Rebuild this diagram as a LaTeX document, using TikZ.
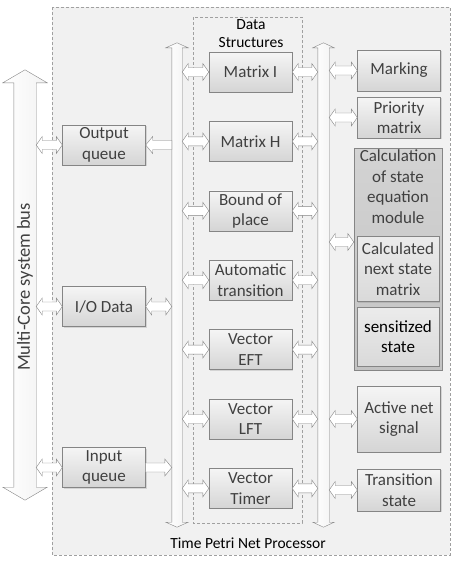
\documentclass[tikz,border=0pt]{standalone}
\usepackage{fontspec}
\setmainfont{Carlito}
\usepackage{tikz}
\usetikzlibrary{shapes, arrows.meta, calc, positioning, shadows}
\definecolor{boxline}{HTML}{858585}
\definecolor{boxtop}{HTML}{F5F5F5}
\definecolor{boxbot}{HTML}{D5D5D5}
\definecolor{txtgray}{HTML}{404040}
\definecolor{procfill}{HTML}{F1F1F1}
\definecolor{dashgray}{HTML}{A0A0A0}
\definecolor{calctop}{HTML}{D3D3D3}
\definecolor{calcbot}{HTML}{C3C3C3}
\tikzstyle{component} = [rectangle, draw=boxline, top color=boxtop, bottom color=boxbot,
    text=txtgray, align=center, minimum width=83pt, minimum height=40pt, inner sep=1pt,
    drop shadow={shadow xshift=1pt, shadow yshift=-1pt, opacity=.25, fill=gray}]
\tikzstyle{blockarrow} = [draw=boxline, fill=white, line join=miter]
\tikzstyle{busbar} = [draw=boxline, left color=white, right color=gray!10, line join=miter]

% double-headed block arrow, #1 left end, #2 right end
\newcommand{\biarrow}[2]{%
  \path[blockarrow] let \p1=#1, \p2=#2 in
    (\x1,\y1) -- ({\x1+6pt},{\y1+8.5pt}) -- ({\x1+6pt},{\y1+4.5pt}) --
    ({\x2-6pt},{\y1+4.5pt}) -- ({\x2-6pt},{\y1+8.5pt}) -- (\x2,\y1) --
    ({\x2-6pt},{\y1-8.5pt}) -- ({\x2-6pt},{\y1-4.5pt}) --
    ({\x1+6pt},{\y1-4.5pt}) -- ({\x1+6pt},{\y1-8.5pt}) -- cycle;}
% single block arrow from #1 to #2
\newcommand{\toarrow}[2]{%
  \path[blockarrow] let \p1=#1, \p2=#2, \n1={sign(\x2-\x1)} in
    (\x1,{\y1+4.5pt}) -- ({\x2-\n1*7pt},{\y1+4.5pt}) -- ({\x2-\n1*7pt},{\y1+8.5pt}) --
    (\x2,\y1) -- ({\x2-\n1*7pt},{\y1-8.5pt}) -- ({\x2-\n1*7pt},{\y1-4.5pt}) --
    (\x1,{\y1-4.5pt}) -- cycle;}
% vertical bus round node #1, head extend #2, head length #3
\newcommand{\busarrow}[3]{%
  \path[busbar] let \p1=(#1.south west), \p2=(#1.north east), \p3=(#1.center) in
    (\x1,{\y1+#3}) -- ({\x1-#2},{\y1+#3}) -- (\x3,\y1) -- ({\x2+#2},{\y1+#3}) --
    (\x2,{\y1+#3}) -- (\x2,{\y2-#3}) -- ({\x2+#2},{\y2-#3}) -- (\x3,\y2) --
    ({\x1-#2},{\y2-#3}) -- (\x1,{\y2-#3}) -- cycle;}

\begin{document}
\begin{tikzpicture}[x=1pt, y=-1pt, node distance=69.4pt,
    font=\fontsize{17}{20.5}\selectfont,
    busnode/.style={rectangle, inner sep=0pt, draw=none},
    procbox/.style={draw=dashgray, fill=procfill, dash pattern=on 3pt off 2pt},
    dsbox/.style={draw=dashgray, dash pattern=on 3pt off 2pt},
    subcomp/.style={component, top color=boxtop!70!boxbot, bottom color=boxbot!90!white,
        minimum width=82pt, drop shadow={opacity=0}}
    ]
    \useasboundingbox (0,0) rectangle (460,562);

    \draw[procbox] (52,7) rectangle (450,555);
    \draw[dsbox] (193,17) rectangle (302,523);
    \node (dslbl) at (251,34) [align=center, font=\fontsize{15.5}{18}\selectfont] {Data\\Structures};
    \node (proclbl) at (248,543) [font=\fontsize{15.5}{18}\selectfont] {Time Petri Net Processor};

    \node[busnode, minimum width=22pt, minimum height=430pt] (sysbus) at (25,285) {};
    \node[busnode, minimum width=10pt, minimum height=484pt] (lbus) at (177,285) {};
    \node[busnode, minimum width=11pt, minimum height=484pt] (rbus) at (323.5,285) {};
    \busarrow{sysbus}{11pt}{13pt}
    \busarrow{lbus}{6pt}{5pt}
    \busarrow{rbus}{5pt}{5pt}
    \node[rotate=90, text=txtgray, font=\fontsize{18.5}{20}\selectfont] (sysbuslbl) at (25,287)
        {Multi-Core system bus};

    \node[component] (oq) at (104,145) {Output\\queue};
    \node[component, below of=oq, node distance=161.5pt] (io) {I/O Data};
    \node[component, below of=io, node distance=161pt] (iq) {Input\\queue};

    \node[component] (mi) at (250.5,72) {Matrix I};
    \node[component, below of=mi] (mh) {Matrix H};
    \node[component, below of=mh] (bp) {Bound of\\place};
    \node[component, below of=bp] (atr) {Automatic\\transition};
    \node[component, below of=atr] (eft) {Vector\\EFT};
    \node[component, below of=eft] (lft) {Vector\\LFT};
    \node[component, below of=lft] (tmr) {Vector\\Timer};

    \node[component, minimum height=41pt] (mk) at (399,70.5) {Marking};
    \node[component, minimum height=41pt, below of=mk, node distance=47pt] (pm) {Priority\\matrix};
    \node[component, top color=calctop, bottom color=calcbot, minimum width=88pt,
          minimum height=222pt] (calc) at (398,259) {};
    \node[text=txtgray, align=center, inner sep=1pt, below=1pt of calc.north] (calchead)
          {Calculation\\of state\\equation\\module};
    \node[subcomp, minimum height=59pt, text=black, above=4pt of calc.south] (sens) {sensitized\\state};
    \node[subcomp, minimum height=65pt, above=5pt of sens] (nextst) {Calculated\\next state\\matrix};
    \node[component, minimum height=66pt] (ans) at (399,419) {Active net\\signal};
    \node[component, minimum height=42pt, below of=ans, node distance=71pt] (ts) {Transition\\state};
    \coordinate (calcin) at ([yshift=17pt]calc.west);

    \biarrow{(sysbus.east |- oq.west)}{(oq.west)}
    \toarrow{(lbus.west |- oq.east)}{(oq.east)}
    \biarrow{(sysbus.east |- io.west)}{(io.west)}
    \biarrow{(io.east)}{(lbus.west |- io.east)}
    \biarrow{(sysbus.east |- iq.west)}{(iq.west)}
    \toarrow{(iq.east)}{(lbus.west |- iq.east)}

    \foreach \bx in {mi,mh,bp,atr,eft,lft,tmr} {
        \biarrow{(lbus.east |- \bx.west)}{(\bx.west)}
        \biarrow{(\bx.east)}{(rbus.west |- \bx.east)}
    }
    \foreach \bx in {mk,pm,ans,ts}
        \biarrow{(rbus.east |- \bx.west)}{(\bx.west)};
    \biarrow{(rbus.east |- calcin)}{(calcin)}
\end{tikzpicture}
\end{document}
